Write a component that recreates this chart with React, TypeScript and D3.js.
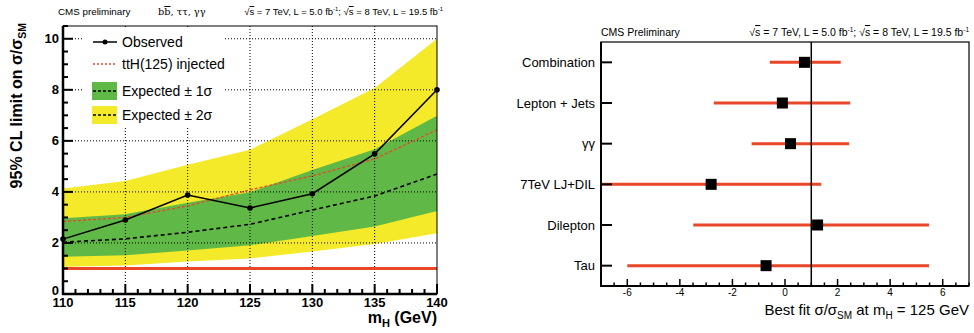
import React from "react";
import * as d3 from "d3";

// left panel: 95% CL limits vs mH
const massPoints = [110, 115, 120, 125, 130, 135, 140];
const observed = [2.15, 2.9, 3.88, 3.37, 3.93, 5.49, 8.0];
const expected = [2.03, 2.16, 2.42, 2.73, 3.29, 3.84, 4.7];
const injected = [2.84, 3.0, 3.45, 4.08, 4.63, 5.29, 6.43];
const band1Lo = [1.46, 1.52, 1.7, 1.91, 2.27, 2.64, 3.25];
const band1Hi = [2.97, 3.12, 3.58, 3.99, 4.86, 5.67, 6.98];
const band2Lo = [1.07, 1.12, 1.27, 1.39, 1.67, 1.96, 2.38];
const band2Hi = [4.13, 4.43, 5.06, 5.65, 6.85, 8.07, 10.0];
const limitTicks = [0, 2, 4, 6, 8, 10];
const massTicks = [110, 115, 120, 125, 130, 135, 140];

// right panel: best fit per channel
const channels = ["Combination", "Lepton + Jets", "γγ", "7TeV LJ+DIL", "Dilepton", "Tau"];
const bestFit = [0.74, -0.1, 0.21, -2.81, 1.24, -0.72];
const errLo = [-0.58, -2.71, -1.27, -7.5, -3.49, -6.0];
const errHi = [2.12, 2.48, 2.44, 1.38, 5.48, 5.48];
const fitTicks = [-6, -4, -2, 0, 2, 4, 6];

const FONT = "'Liberation Sans', Arial, Helvetica, sans-serif";
const YELLOW = "#f4ea2a";
const GREEN = "#60b946";
const RED = "#ea4628";

function Lumi({ x, y, size, anchor }: { x: number; y: number; size: number; anchor?: string }) {
  const sup = size * 0.62;
  return (
    <text x={x} y={y} fontSize={size} fontFamily={FONT} textAnchor={anchor || "start"}>
      √<tspan style={{ textDecoration: "overline" }}>s</tspan> = 7 TeV, L = 5.0 fb
      <tspan dy={-size * 0.4} fontSize={sup}>-1</tspan>
      <tspan dy={size * 0.4}>; √</tspan>
      <tspan style={{ textDecoration: "overline" }}>s</tspan> = 8 TeV, L = 19.5 fb
      <tspan dy={-size * 0.4} fontSize={sup}>-1</tspan>
    </text>
  );
}

function LimitPanel() {
  const x = d3.scaleLinear().domain([110, 140]).range([63, 437]);
  const y = d3.scaleLinear().domain([0, 10.5]).range([294, 26]);
  const idx = d3.range(massPoints.length);

  const band = (lo: number[], hi: number[]) =>
    d3.area<number>().x((i) => x(massPoints[i])).y0((i) => y(lo[i])).y1((i) => y(hi[i]))(idx) || "";
  const line = (v: number[]) => d3.line<number>().x((i) => x(massPoints[i])).y((i) => y(v[i]))(idx) || "";

  const minorY = d3.range(0, 10.51, 0.5).filter((v) => v % 2 !== 0);
  const minorX = d3.range(110, 141, 1).filter((v) => v % 5 !== 0);

  return (
    <g>
      <text x={58} y={15} fontSize={9.8} fontFamily={FONT}>CMS preliminary</text>
      <text x={158} y={15} fontSize={9.8} fontFamily="'DejaVu Serif', serif">
        b<tspan style={{ textDecoration: "overline" }}>b</tspan>, ττ, γγ
      </text>
      <Lumi x={443} y={15} size={9.5} anchor="end" />

      <path d={band(band2Lo, band2Hi)} fill={YELLOW} />
      <path d={band(band1Lo, band1Hi)} fill={GREEN} />

      {/* grid */}
      {massTicks.slice(1, -1).map((m) => (
        <line key={"gx" + m} x1={x(m)} x2={x(m)} y1={y(0)} y2={y(10.5)} stroke="#000" strokeWidth={1} strokeDasharray="1,2" />
      ))}
      {limitTicks.slice(1).map((v) => (
        <line key={"gy" + v} x1={x(110)} x2={x(140)} y1={y(v)} y2={y(v)} stroke="#000" strokeWidth={1} strokeDasharray="1,2" />
      ))}

      <line x1={x(110)} x2={x(140)} y1={y(1)} y2={y(1)} stroke={RED} strokeWidth={3} />
      <path d={line(expected)} fill="none" stroke="#000" strokeWidth={1.6} strokeDasharray="4,3" />
      <path d={line(injected)} fill="none" stroke={RED} strokeWidth={1.3} strokeDasharray="3,2" />
      <path d={line(observed)} fill="none" stroke="#000" strokeWidth={1.5} />
      {idx.map((i) => (
        <circle key={"o" + i} cx={x(massPoints[i])} cy={y(observed[i])} r={2.8} fill="#000" />
      ))}

      {/* legend */}
      <rect x={82} y={29} width={143} height={98} fill="#fff" />
      <line x1={93} x2={117} y1={42} y2={42} stroke="#000" strokeWidth={1.5} />
      <circle cx={105} cy={42} r={2.5} fill="#000" />
      <text x={122} y={47} fontSize={14} fontFamily={FONT}>Observed</text>
      <line x1={93} x2={117} y1={64} y2={64} stroke={RED} strokeWidth={1.3} strokeDasharray="2,2" />
      <text x={122} y={69} fontSize={14} fontFamily={FONT}>ttH(125) injected</text>
      <rect x={92} y={82} width={25} height={18} fill={GREEN} />
      <line x1={93} x2={117} y1={91} y2={91} stroke="#000" strokeWidth={1.3} strokeDasharray="3,2" />
      <text x={122} y={96} fontSize={14} fontFamily={FONT}>Expected ± 1σ</text>
      <rect x={92} y={106} width={25} height={18} fill={YELLOW} />
      <line x1={93} x2={117} y1={115} y2={115} stroke="#000" strokeWidth={1.3} strokeDasharray="3,2" />
      <text x={122} y={120} fontSize={14} fontFamily={FONT}>Expected ± 2σ</text>

      {/* frame */}
      <rect x={x(110)} y={y(10.5)} width={x(140) - x(110)} height={y(0) - y(10.5)} fill="none" stroke="#000" strokeWidth={1} />
      <line x1={x(110)} x2={x(110)} y1={y(10.5)} y2={y(0) + 1} stroke="#000" strokeWidth={2.5} />
      <line x1={x(110) - 1} x2={x(140)} y1={y(0)} y2={y(0)} stroke="#000" strokeWidth={2.5} />

      {limitTicks.map((v) => (
        <g key={"ty" + v}>
          <line x1={x(110)} x2={x(110) + 10} y1={y(v)} y2={y(v)} stroke="#000" strokeWidth={2} />
          <text x={59} y={y(v) + (v === 0 ? 0.5 : 4.5)} fontSize={13} fontWeight="bold" fontFamily={FONT} textAnchor="end">{v}</text>
        </g>
      ))}
      {minorY.map((v) => (
        <line key={"my" + v} x1={x(110)} x2={x(110) + 5} y1={y(v)} y2={y(v)} stroke="#000" strokeWidth={2} />
      ))}
      {massTicks.map((m) => (
        <g key={"tx" + m}>
          <line x1={x(m)} x2={x(m)} y1={y(0)} y2={y(0) - 10} stroke="#000" strokeWidth={2} />
          <text x={x(m)} y={307} fontSize={13} fontWeight="bold" fontFamily={FONT} textAnchor="middle">{m}</text>
        </g>
      ))}
      {minorX.map((m) => (
        <line key={"mx" + m} x1={x(m)} x2={x(m)} y1={y(0)} y2={y(0) - 5} stroke="#000" strokeWidth={2} />
      ))}

      <text transform="translate(22,23) rotate(-90)" fontSize={16} fontWeight="bold" fontFamily={FONT} textAnchor="end">
        95% CL limit on σ/σ<tspan dy={4} fontSize={10.5}>SM</tspan>
      </text>
      <text x={437} y={323} fontSize={16} fontWeight="bold" fontFamily={FONT} textAnchor="end">
        m<tspan dy={4} fontSize={11}>H</tspan>
        <tspan dy={-4}> (GeV)</tspan>
      </text>
    </g>
  );
}

function FitPanel() {
  const x = d3.scaleLinear().domain([-7, 7]).range([601, 969]).clamp(true);
  const y = d3.scaleBand<string>().domain(channels).range([42, 286]);
  const cy = (c: string) => (y(c) || 0) + y.bandwidth() / 2;
  const minorX = d3.range(-7, 7.01, 0.5).filter((v) => v % 2 !== 0);

  return (
    <g>
      <text x={601} y={36} fontSize={10.5} fontFamily={FONT}>CMS Preliminary</text>
      <Lumi x={969} y={36} size={10.5} anchor="end" />

      {channels.map((c, i) => (
        <line key={"e" + c} x1={x(errLo[i])} x2={x(errHi[i])} y1={cy(c)} y2={cy(c)} stroke={RED} strokeWidth={3} />
      ))}
      <line x1={x(1)} x2={x(1)} y1={42} y2={286} stroke="#000" strokeWidth={1.5} />
      {channels.map((c, i) => (
        <rect key={"p" + c} x={x(bestFit[i]) - 5.5} y={cy(c) - 5.5} width={11} height={11} fill="#000" />
      ))}

      <rect x={601} y={42} width={368} height={244} fill="none" stroke="#000" strokeWidth={1.2} />
      <line x1={601} x2={969} y1={286} y2={286} stroke="#000" strokeWidth={2} />
      <line x1={601} x2={601} y1={42} y2={287} stroke="#000" strokeWidth={2} />

      {channels.map((c) => (
        <g key={"l" + c}>
          <line x1={601} x2={612} y1={cy(c)} y2={cy(c)} stroke="#000" strokeWidth={2} />
          <text x={595} y={cy(c) + 4.5} fontSize={13} fontFamily={FONT} textAnchor="end">{c}</text>
        </g>
      ))}
      {fitTicks.map((v) => (
        <g key={"fx" + v}>
          <line x1={x(v)} x2={x(v)} y1={286} y2={279} stroke="#000" strokeWidth={1.5} />
          <text x={x(v)} y={296} fontSize={10} fontFamily={FONT} textAnchor="middle">{v}</text>
        </g>
      ))}
      {minorX.map((v) => (
        <line key={"fm" + v} x1={x(v)} x2={x(v)} y1={286} y2={282.5} stroke="#000" strokeWidth={1.5} />
      ))}

      <text x={969} y={315} fontSize={15} fontFamily={FONT} textAnchor="end">
        Best fit σ/σ<tspan dy={4} fontSize={10}>SM</tspan>
        <tspan dy={-4}> at m</tspan>
        <tspan dy={4} fontSize={10}>H</tspan>
        <tspan dy={-4}> = 125 GeV</tspan>
      </text>
    </g>
  );
}

export default function App() {
  return (
    <svg width={974} height={333} style={{ position: "absolute", left: 0, top: 0, background: "#fff" }}>
      <rect width={974} height={333} fill="#fff" />
      <LimitPanel />
      <FitPanel />
    </svg>
  );
}
